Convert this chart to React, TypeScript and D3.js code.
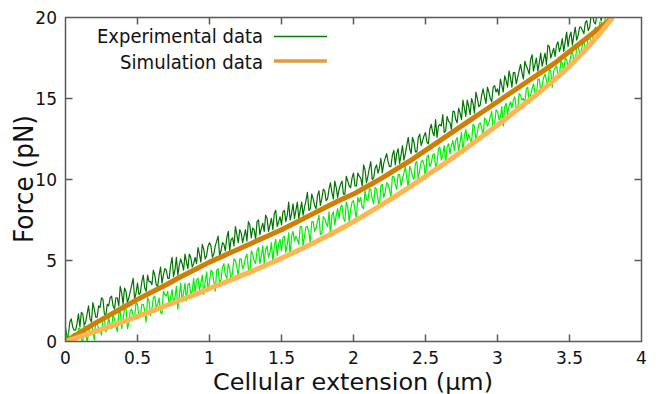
import React from "react";
import * as d3 from "d3";

// Experimental data (F in pN), sampled every 0.01 µm starting at 0
const EXP_STEP = 0.01;
const expUpper = [
  0.9,0.2,0.4,1.2,1.4,0.9,0.7,0.7,1.1,1.7,
  0.9,1.8,1.7,1.0,1.2,1.7,2.2,1.4,1.2,2.4,
  2.0,1.5,1.5,2.2,2.1,2.7,2.6,1.7,1.6,2.3,
  2.2,2.7,2.8,2.2,2.0,2.7,2.7,2.2,3.4,3.0,
  2.3,3.3,3.1,2.4,2.7,3.1,3.5,3.9,2.6,3.0,
  3.6,2.9,3.0,3.7,4.1,3.3,3.1,4.1,3.7,3.7,
  3.5,4.4,4.1,3.5,3.4,4.1,4.6,3.6,4.1,4.5,
  4.4,3.9,3.9,4.7,5.2,4.0,4.4,5.2,4.1,4.7,
  5.1,4.8,4.4,5.4,4.9,4.5,5.4,5.2,4.6,4.8,
  5.2,4.8,5.8,5.4,4.9,6.0,5.7,5.1,5.3,5.9,
  6.1,5.9,5.2,5.4,5.9,6.2,6.5,5.3,5.6,6.1,
  6.0,5.6,6.4,6.8,5.6,6.3,6.4,5.9,7.1,6.6,
  6.1,6.9,6.7,6.1,6.5,6.9,6.2,7.4,7.2,6.4,
  7.0,6.9,6.3,7.4,7.5,6.6,7.0,7.3,6.8,7.8,
  7.6,6.8,7.2,7.6,6.9,7.9,8.1,7.1,7.4,7.7,
  7.2,8.0,8.1,7.4,7.8,8.6,7.5,7.9,8.5,7.6,
  8.1,8.6,7.6,8.1,8.6,7.8,8.3,8.7,9.2,8.1,
  8.2,9.1,8.8,8.4,8.2,9.0,9.3,8.4,8.8,9.4,
  9.3,8.7,8.8,9.4,9.8,9.2,8.8,9.9,9.5,8.9,
  9.4,9.7,9.9,9.1,9.1,10.2,9.9,9.6,9.5,10.1,
  10.4,9.6,9.6,10.4,10.2,10.1,9.6,10.9,10.6,9.8,
  10.2,10.7,11.1,10.0,10.1,10.7,10.9,10.4,10.7,11.3,
  10.4,11.0,11.3,11.6,11.1,10.8,10.8,11.5,11.8,10.9,
  11.6,11.9,11.0,11.5,12.1,11.2,11.6,12.1,12.6,11.9,
  11.6,12.6,12.3,11.7,11.7,12.6,12.8,12.1,12.4,12.7,
  12.9,12.3,12.2,13.1,13.4,12.9,12.7,13.7,12.6,13.3,
  13.4,13.3,14.0,12.9,13.0,13.9,13.6,13.5,13.1,14.2,
  14.2,13.7,13.5,14.4,14.1,13.7,14.9,14.4,13.9,14.9,
  14.5,14.0,15.0,14.7,14.1,15.4,15.0,14.5,14.6,15.2,
  15.6,15.1,14.7,15.7,15.4,15.0,14.8,15.7,15.8,15.4,
  15.6,15.2,16.2,15.8,15.4,16.4,16.1,15.7,16.7,16.3,
  15.7,16.6,16.6,15.9,16.3,16.7,17.1,16.6,16.2,17.3,
  17.0,16.8,16.5,17.4,17.7,16.7,17.1,17.5,16.7,17.2,
  17.8,17.0,17.4,17.8,17.1,18.3,18.2,17.5,17.8,18.1,
  17.6,18.3,18.5,17.9,18.2,18.7,17.9,18.5,19.1,18.2,
  18.8,19.1,18.3,18.9,19.4,18.6,18.9,19.4,19.4,19.2,
  19.0,19.7,19.8,19.2,19.4,20.1,20.2,19.7,19.6,20.2,
  20.1,20.3,19.8,20.5,20.4,
];
const expLower = [
  -0.1,0.4,0.5,-0.3,-0.3,0.4,0.5,0.2,0.1,0.8,
  0.8,0.2,-0.1,1.0,0.7,-0.1,0.5,1.0,1.1,0.7,
  0.1,1.2,1.1,0.8,0.7,0.4,1.5,1.4,0.6,0.8,
  1.5,1.0,0.8,1.7,1.4,0.9,0.6,1.7,1.9,0.8,
  1.4,2.0,2.1,0.8,1.1,1.9,2.0,1.6,1.5,2.4,
  2.3,1.5,1.5,2.3,2.3,1.9,1.2,2.7,2.5,1.6,
  2.0,2.7,2.8,2.1,2.3,2.7,1.8,1.7,3.1,2.9,
  2.8,3.1,2.2,2.7,3.2,2.4,2.7,3.4,2.0,2.8,
  3.6,2.5,3.0,3.6,2.5,3.5,3.6,2.9,3.1,3.9,
  3.0,3.8,3.9,3.2,3.6,4.1,2.9,3.7,4.3,3.1,
  3.7,4.4,4.3,3.7,3.1,4.4,4.5,3.6,3.8,4.6,
  4.8,4.1,3.9,4.8,4.5,3.7,4.3,5.1,5.0,4.6,
  4.0,5.1,5.1,4.5,4.7,5.2,5.4,4.5,4.1,5.6,
  5.4,5.0,4.8,5.6,5.8,4.8,5.3,5.9,4.8,5.7,
  5.9,5.2,5.5,6.1,4.9,5.9,6.3,5.3,6.0,6.3,
  5.6,6.4,6.5,5.5,6.0,6.7,5.3,6.5,6.8,6.2,
  6.5,6.3,6.0,7.1,7.1,5.9,6.5,7.1,7.1,6.7,
  6.1,7.4,7.4,6.8,7.0,7.4,7.8,6.6,6.7,7.7,
  7.6,7.3,7.1,8.0,6.5,7.8,8.0,7.2,7.8,8.2,
  7.6,8.3,8.4,7.6,7.4,8.6,8.3,7.4,8.1,8.6,
  8.7,8.1,7.6,8.9,8.6,8.9,8.3,8.2,9.3,8.8,
  8.7,9.4,9.4,8.8,8.5,9.5,9.4,8.8,8.3,9.6,
  9.7,8.9,9.2,9.8,9.7,9.4,8.9,10.2,10.2,9.7,
  9.4,10.3,10.3,9.6,10.0,10.4,10.8,10.1,9.5,10.8,
  10.6,10.2,10.0,11.0,11.1,10.0,10.6,11.1,11.2,10.9,
  10.0,11.4,11.5,10.8,11.0,11.5,11.6,10.8,11.0,11.9,
  12.0,11.2,11.5,12.1,11.0,12.0,12.2,11.6,12.1,12.4,
  11.8,12.4,12.6,11.8,12.3,12.9,11.6,12.7,13.1,12.4,
  12.8,12.5,12.3,13.4,13.3,12.4,12.9,13.4,13.5,13.2,
  12.6,13.8,13.7,13.3,13.5,13.9,14.2,13.0,13.4,14.3,
  14.2,13.7,13.8,14.5,13.3,14.5,14.7,14.0,14.5,14.8,
  14.4,14.9,15.1,14.4,14.3,15.3,15.2,14.9,15.0,14.7,
  15.6,15.7,14.7,15.2,15.6,15.9,15.4,15.1,16.2,16.2,
  15.5,15.8,16.3,16.5,16.1,15.8,16.8,16.7,15.7,16.7,
  16.9,17.0,16.5,16.4,17.3,17.2,16.5,17.5,17.4,17.0,
  17.2,17.7,17.9,17.3,17.2,18.2,18.2,17.8,17.9,18.3,
  18.5,18.1,18.0,18.9,18.8,18.4,18.6,19.2,19.4,19.0,
  18.9,19.7,19.7,19.3,19.5,20.0,20.2,19.8,20.1,20.3,
];

// Simulation data (F in pN), sampled every 0.1 µm starting at 0
const SIM_STEP = 0.1;
const simUpper = [
  0,0.55,1.1,1.6,2.1,2.6,3.05,3.5,4.0,4.45,4.9,5.3,5.7,6.1,6.5,6.9,7.35,7.8,8.25,8.7,
  9.1,9.6,10.1,10.65,11.2,11.8,12.4,13.0,13.6,14.2,14.8,15.4,16.0,16.6,17.2,17.9,18.6,19.3,20.0,
];
const simLower = [
  0,0.3,0.6,0.9,1.22,1.55,1.88,2.22,2.56,2.91,3.27,3.63,3.99,4.36,4.74,5.14,5.55,5.98,6.43,6.9,
  7.4,7.92,8.46,9.02,9.6,10.2,10.8,11.4,12.05,12.7,13.37,14.05,14.75,15.45,16.2,17.0,17.9,18.9,20.0,
];

const xTicks = [0, 0.5, 1, 1.5, 2, 2.5, 3, 3.5, 4];
const yTicks = [0, 5, 10, 15, 20];
const xTickLabels = ["0", "0.5", "1", "1.5", "2", "2.5", "3", "3.5", "4"];
const yTickLabels = ["0", "5", "10", "15", "20"];
const legendLabels = ["Experimental data", "Simulation data"];
const xTitle = "Cellular extension (µm)";
const yTitle = "Force (pN)";

const W = 660, H = 394;
const L = 65.5, R = 641.5, T = 17.5, B = 341.5;
const FONT = "'DejaVu Sans', Verdana, sans-serif";
const AXIS = "#5a5a5a";

export default function App() {
  const x = d3.scaleLinear().domain([0, 4]).range([L, R]);
  const y = d3.scaleLinear().domain([0, 20]).range([B, T]);
  const mk = (step: number) =>
    d3.line<number>().x((_, i) => x(i * step)).y((v) => y(v));
  const expLine = mk(EXP_STEP);
  const simLine = mk(SIM_STEP);
  const tick = 7;

  return (
    <svg width={W} height={H} style={{ position: "absolute", left: 0, top: 0, background: "#fff" }}>
      <defs>
        <clipPath id="plot">
          <rect x={L} y={T} width={R - L} height={B - T} />
        </clipPath>
      </defs>
      <g clipPath="url(#plot)" fill="none" strokeLinejoin="round">
        <path d={expLine(expUpper) || ""} stroke="#007400" strokeWidth={1.2} />
        <path d={expLine(expLower) || ""} stroke="#00f000" strokeWidth={1.2} />
        <path d={simLine(simUpper) || ""} stroke="#d07f05" strokeWidth={5} />
        <path d={simLine(simLower) || ""} stroke="#ffb552" strokeWidth={5} />
      </g>
      <rect x={L} y={T} width={R - L} height={B - T} fill="none" stroke={AXIS} strokeWidth={1.5} />
      {xTicks.map((t, i) => (
        <g key={"xt" + i}>
          {i > 0 && i < xTicks.length - 1 && (
            <>
              <line x1={x(t)} x2={x(t)} y1={B} y2={B - tick} stroke={AXIS} strokeWidth={1.5} />
              <line x1={x(t)} x2={x(t)} y1={T} y2={T + tick} stroke={AXIS} strokeWidth={1.5} />
            </>
          )}
          <text x={x(t)} y={363.5} textAnchor="middle" fontFamily={FONT} fontSize={17} fill="#111">
            {xTickLabels[i]}
          </text>
        </g>
      ))}
      {yTicks.map((t, i) => (
        <g key={"yt" + i}>
          {i > 0 && i < yTicks.length - 1 && (
            <>
              <line x1={L} x2={L + tick} y1={y(t)} y2={y(t)} stroke={AXIS} strokeWidth={1.5} />
              <line x1={R} x2={R - tick} y1={y(t)} y2={y(t)} stroke={AXIS} strokeWidth={1.5} />
            </>
          )}
          <text x={57} y={y(t) + 6} textAnchor="end" fontFamily={FONT} fontSize={17} fill="#111">
            {yTickLabels[i]}
          </text>
        </g>
      ))}
      <text x={263} y={43} textAnchor="end" fontFamily={FONT} fontSize={19}
        textLength={166} lengthAdjust="spacingAndGlyphs" fill="#111">
        {legendLabels[0]}
      </text>
      <line x1={274} x2={327} y1={36.5} y2={36.5} stroke="#008000" strokeWidth={1.3} />
      <text x={263} y={68.5} textAnchor="end" fontFamily={FONT} fontSize={19}
        textLength={143} lengthAdjust="spacingAndGlyphs" fill="#111">
        {legendLabels[1]}
      </text>
      <line x1={274} x2={327} y1={61} y2={61} stroke="#e09c42" strokeWidth={3.5} />
      <text x={353} y={389.5} textAnchor="middle" fontFamily={FONT} fontSize={23.5}
        textLength={280} lengthAdjust="spacingAndGlyphs" fill="#111">
        {xTitle}
      </text>
      <text
        transform={`translate(33,${179}) rotate(-90)`}
        textAnchor="middle"
        fontFamily={FONT}
        fontSize={26}
        textLength={128}
        lengthAdjust="spacingAndGlyphs"
        fill="#111"
      >
        {yTitle}
      </text>
    </svg>
  );
}
